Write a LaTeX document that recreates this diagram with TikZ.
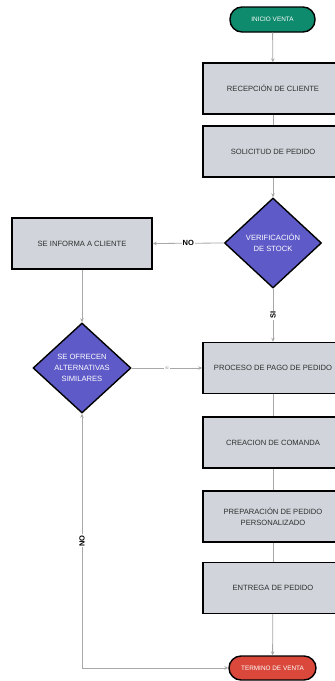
\documentclass[tikz,border=0pt]{standalone}
\usepackage{fontspec}
\setmainfont{Liberation Sans}
\usetikzlibrary{shapes.geometric,arrows.meta}
\definecolor{boxfill}{HTML}{D1D5DB}
\definecolor{diafill}{HTML}{5E5BC9}
\definecolor{startfill}{HTML}{0E8A6C}
\definecolor{endfill}{HTML}{D9483B}
\definecolor{linec}{HTML}{A8A8A8}
\definecolor{txt}{HTML}{2E2E2E}
\tikzset{
  procbox/.style={draw=black, line width=1.4pt, fill=boxfill, minimum width=140pt, minimum height=51pt,
    inner sep=0pt, align=center, text=txt, font=\fontsize{7.6}{11}\selectfont},
  decision/.style={draw=black, line width=1.4pt, fill=diafill, shape=diamond, minimum width=97pt,
    minimum height=90pt, inner sep=0pt, align=center, text=white, font=\fontsize{7.6}{10.8}\selectfont},
  pill/.style={draw=black, line width=1.4pt, rounded corners=12pt, minimum height=25pt, inner sep=0pt,
    text=white, font=\fontsize{6.4}{8}\selectfont},
  conn/.style={draw=linec, line width=0.8pt},
  arr/.style={conn, -{Stealth[length=4pt,width=3.5pt]}},
  lbl/.style={fill=white, inner sep=1pt, font=\bfseries\fontsize{7.5}{9}\selectfont, text=black},
  tinylbl/.style={fill=white, inner sep=1pt, font=\fontsize{4.5}{5}\selectfont, text=gray}
}
\begin{document}
\begin{tikzpicture}[x=1pt,y=-1pt]
\useasboundingbox (0,0) rectangle (335,681);
\fill[white] (0,0) rectangle (335,681);
\clip (0,0) rectangle (335,681);

\node[pill, fill=startfill, minimum width=85pt] (inicio) at (272.5,19.5) {INICIO VENTA};
\node[procbox] (recep) at (273,88.5) {RECEPCIÓN DE CLIENTE};
\node[procbox] (solic) at (273,151.5) {SOLICITUD DE PEDIDO};
\node[decision] (verif) at (273,243) {VERIFICACIÓN\\DE STOCK};
\node[procbox] (informa) at (82,243.5) {SE INFORMA A CLIENTE};
\node[decision, minimum width=98pt] (ofrecen) at (82,368) {SE OFRECEN\\ALTERNATIVAS\\SIMILARES};
\node[procbox] (pago) at (273,368) {PROCESO DE PAGO DE PEDIDO};
\node[procbox] (comanda) at (273,442.5) {CREACION DE COMANDA};
\node[procbox] (prep) at (273,516.5) {PREPARACIÓN DE PEDIDO\\PERSONALIZADO};
\node[procbox] (entrega) at (273,588) {ENTREGA DE PEDIDO};
\node[pill, fill=endfill, minimum width=87pt, minimum height=24pt] (termino) at (272.5,668) {TERMINO DE VENTA};

\coordinate (corner) at (ofrecen.south |- termino.west);

\draw[arr] (inicio) -- (recep);
\draw[conn] (recep) -- (solic);
\draw[arr] (solic) -- (verif);
\draw[arr] (verif.west) -- node[lbl, pos=0.5] {NO} (informa.east);
\draw[arr] (verif.south) -- node[lbl, rotate=90, pos=0.5] {SI} (pago.north);
\draw[arr] (informa.south) -- (ofrecen.north);
\draw[arr] (ofrecen.east) -- node[tinylbl, pos=0.5] {si} (pago.west);
\draw[conn] (pago) -- (comanda);
\draw[conn] (comanda) -- (prep);
\draw[conn] (prep) -- (entrega);
\draw[arr] (entrega) -- (termino);
\draw[conn, {Stealth[length=4pt,width=3.5pt]}-{Stealth[length=4pt,width=3.5pt]}] (ofrecen.south) -- node[lbl, rotate=90, pos=0.5] {NO} (corner) -- (termino.west);
\end{tikzpicture}
\end{document}
